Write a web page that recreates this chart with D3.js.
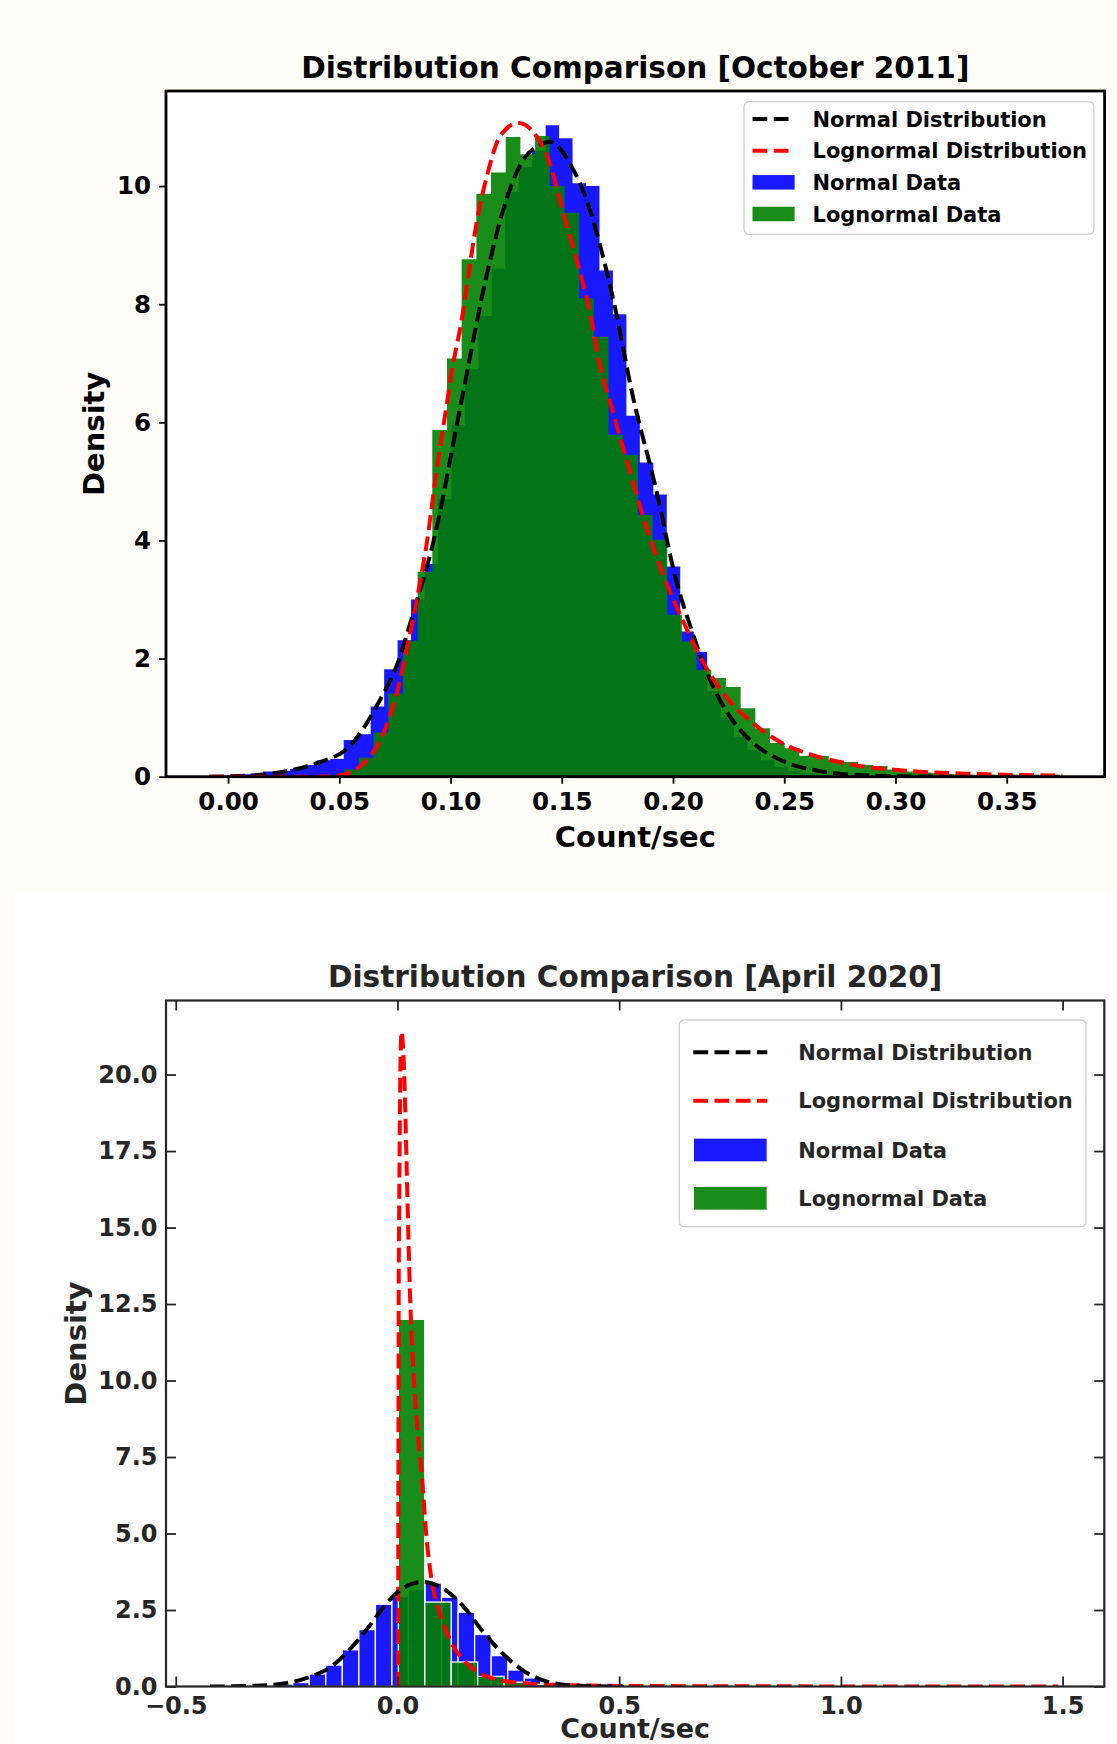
<!DOCTYPE html>
<html>
<head>
<meta charset="utf-8">
<script src="https://cdn.jsdelivr.net/npm/d3@7"></script>
<style>
  body { margin: 0; background: #fffdf8; }
  svg { display: block; }
  text { font-family: "DejaVu Sans", sans-serif; font-weight: bold; }
</style>
</head>
<body>
<svg id="chart" width="1117" height="1744"></svg>
<script>
// ---------- October 2011 ----------
const octNormalStart = -0.0085, octNormalWidth = 0.00605;
const octNormalDensity = [
  0.02, 0.02, 0.04, 0.05, 0.09, 0.10, 0.13, 0.20, 0.28, 0.30,
  0.62, 0.72, 1.19, 1.82, 2.31, 3.00, 3.60, 4.70, 5.95, 6.90,
  7.80, 8.60, 9.90, 10.32, 10.60, 11.03, 10.81, 10.05, 10.00, 8.57,
  7.83, 6.11, 5.32, 4.78, 3.56, 2.46, 2.11, 1.45, 1.00, 0.68,
  0.45, 0.28, 0.17, 0.10, 0.06, 0.035, 0.02, 0.01, 0.005, 0.005
];
const octLogStart = 0.0456, octLogWidth = 0.0066;
const octLogDensity = [
  0.03, 0.12, 0.32, 0.75, 1.41, 2.30, 3.47, 5.87, 7.08, 8.76,
  9.87, 10.23, 10.83, 10.54, 10.85, 10.00, 9.55, 8.10, 7.45, 5.79,
  5.45, 4.43, 4.01, 2.74, 2.29, 1.81, 1.67, 1.52, 1.16, 0.82,
  0.57, 0.48, 0.35, 0.35, 0.28, 0.25, 0.20, 0.18, 0.12, 0.09,
  0.07, 0.06, 0.04, 0.03, 0.03, 0.02, 0.015, 0.01, 0.005, 0.01
];
const octNormalCurve = [
  [-0.0085, 0.0], [0.01, 0.02], [0.025, 0.085], [0.04, 0.23], [0.055, 0.53],
  [0.0683, 1.3], [0.0758, 1.88], [0.0833, 2.78], [0.0923, 3.98], [0.105, 6.38],
  [0.1163, 8.5], [0.1237, 9.6], [0.1312, 10.35], [0.1402, 10.7], [0.1445, 10.75],
  [0.1544, 10.33], [0.1608, 9.8], [0.1672, 9.0], [0.1736, 8.0], [0.1816, 6.5],
  [0.1928, 4.8], [0.2009, 3.4], [0.2089, 2.42], [0.2169, 1.62], [0.225, 1.05],
  [0.2346, 0.62], [0.249, 0.27], [0.2651, 0.1], [0.28, 0.035], [0.30, 0.008],
  [0.33, 0.001], [0.375, 0.0]
];
const octLogCurve = [
  [-0.0085, 0.0], [0.04, 0.0], [0.0473, 0.01], [0.0548, 0.07], [0.0623, 0.28],
  [0.0698, 0.73], [0.0758, 1.41], [0.0803, 2.15], [0.0848, 2.99], [0.0893, 3.95],
  [0.0938, 5.2], [0.0983, 6.3], [0.1005, 6.85], [0.105, 7.73], [0.1088, 8.69],
  [0.1118, 9.4], [0.1163, 10.16], [0.1222, 10.84], [0.1305, 11.07], [0.1387, 10.84],
  [0.1447, 10.38], [0.1507, 9.54], [0.1567, 8.75], [0.1627, 7.85], [0.1672, 6.95],
  [0.1728, 6.2], [0.18, 5.25], [0.188, 4.23], [0.1977, 3.22], [0.2057, 2.54],
  [0.2138, 1.92], [0.225, 1.30], [0.2362, 0.9], [0.249, 0.57], [0.2651, 0.34],
  [0.2812, 0.2], [0.3052, 0.1], [0.3373, 0.045], [0.375, 0.02]
];
const octXTicks = [0, 0.05, 0.10, 0.15, 0.20, 0.25, 0.30, 0.35];
const octYTicks = [0, 2, 4, 6, 8, 10];

// ---------- April 2020 ----------
const aprNormalStart = -0.4228, aprNormalWidth = 0.0373;
const aprNormalDensity = [
  0.01, 0.01, 0.02, 0.03, 0.08, 0.13, 0.41, 0.70, 1.20, 1.86,
  2.69, 2.94, 3.16, 3.38, 2.92, 2.43, 1.70, 1.01, 0.54, 0.28,
  0.11, 0.04, 0.02, 0.01, 0.005
];
const aprLogStart = 0.002, aprLogWidth = 0.0596;
const aprLogDensity = [
  12.0, 2.76, 0.80, 0.33, 0.14, 0.07, 0.04, 0.02, 0.015, 0.01,
  0.01, 0.008, 0.006, 0.005, 0.004, 0.004, 0.003, 0.003, 0.002, 0.002,
  0.002, 0.001, 0.001, 0.001, 0.001
];
const aprNormalCurve = [
  [-0.4228, 0.0], [-0.33, 0.02], [-0.2576, 0.1], [-0.2199, 0.21], [-0.1823, 0.4],
  [-0.1447, 0.7], [-0.1071, 1.22], [-0.0695, 1.86], [-0.0319, 2.58], [0.0, 3.08],
  [0.0356, 3.37], [0.0582, 3.42], [0.1033, 3.2], [0.1484, 2.62], [0.1936, 1.78],
  [0.2387, 1.06], [0.2838, 0.52], [0.329, 0.2], [0.37, 0.07], [0.42, 0.02], [0.51, 0.0]
];
const aprLogCurve = [
  [0.0015, 0.0], [0.0018, 4.0], [0.0022, 8.0], [0.0028, 12.9], [0.004, 15.9],
  [0.0058, 19.2], [0.0075, 20.9], [0.0094, 21.4], [0.012, 21.0], [0.0145, 20.3],
  [0.0169, 19.17], [0.0207, 16.99], [0.0244, 14.81], [0.0282, 12.85], [0.036, 10.3],
  [0.047, 8.05], [0.0545, 6.97], [0.0659, 4.79], [0.077, 3.48], [0.0959, 2.39],
  [0.1184, 1.52], [0.1485, 0.87], [0.1861, 0.43], [0.2312, 0.21], [0.2914, 0.1],
  [0.3666, 0.05], [0.5, 0.02], [0.7, 0.01], [1.0, 0.003], [1.49, 0.0]
];
const aprXTicks = [-0.5, 0.0, 0.5, 1.0, 1.5];
const aprYTicks = [0, 2.5, 5, 7.5, 10, 12.5, 15, 17.5, 20];

const legendLabels = ["Normal Distribution", "Lognormal Distribution", "Normal Data", "Lognormal Data"];

const svg = d3.select('#chart');

// white panel behind the second figure
svg.append('rect')
  .attr('x', 15).attr('y', 892)
  .attr('width', 1117 - 15).attr('height', 1744 - 892)
  .attr('fill', '#ffffff');

const toBins = (start, width, dens) => dens.map((d, i) => ({ x0: start + i * width, x1: start + (i + 1) * width, d }));

let drawPanel = (p) => {
  const g = svg.append('g');
  const x = d3.scaleLinear().domain(p.xDomain).range([p.left, p.right]);
  const y = d3.scaleLinear().domain(p.yDomain).range([p.bottom, p.top]);

  g.append('rect')
    .attr('x', p.left).attr('y', p.top)
    .attr('width', p.right - p.left).attr('height', p.bottom - p.top)
    .attr('fill', '#fff');

  const clipId = p.id + '-clip';
  g.append('clipPath').attr('id', clipId)
    .append('rect')
    .attr('x', p.left).attr('y', p.top)
    .attr('width', p.right - p.left).attr('height', p.bottom - p.top);

  const plot = g.append('g').attr('clip-path', `url(#${clipId})`);

  const series = [
    { bins: toBins(p.normStart, p.normWidth, p.normDensity), color: 'blue' },
    { bins: toBins(p.logStart, p.logWidth, p.logDensity), color: 'green' }
  ];
  series.forEach(s => {
    if (p.barEdge) {
      plot.append('g').selectAll('rect')
        .data(s.bins)
        .enter()
        .append('rect')
        .attr('x', d => x(d.x0))
        .attr('width', d => x(d.x1) - x(d.x0))
        .attr('y', d => y(d.d))
        .attr('height', d => y(0) - y(d.d))
        .attr('fill', s.color)
        .attr('fill-opacity', 0.9)
        .attr('stroke', '#fff')
        .attr('stroke-width', 1.3);
    } else {
      // one stepped shape per series, so no seams between bars
      const last = s.bins[s.bins.length - 1];
      const pts = s.bins.map(b => [b.x0, b.d]).concat([[last.x1, last.d]]);
      const area = d3.area()
        .x(d => x(d[0])).y0(y(0)).y1(d => y(d[1]))
        .curve(d3.curveStepAfter);
      plot.append('path')
        .datum(pts)
        .attr('d', area)
        .attr('fill', s.color)
        .attr('fill-opacity', 0.9);
    }
  });

  const line = d3.line().x(d => x(d[0])).y(d => y(d[1])).curve(d3.curveMonotoneX);
  p.curves.forEach(c => {
    plot.append('path')
      .datum(c.data)
      .attr('d', line)
      .attr('fill', 'none')
      .attr('stroke', c.color)
      .attr('stroke-width', 4)
      .attr('stroke-dasharray', '14.8,6.4');
  });

  // axes
  const xAxis = d3.axisBottom(x).tickValues(p.xTicks).tickFormat(p.xFormat)
    .tickSizeInner(p.tickLen).tickSizeOuter(0).tickPadding(p.xPad);
  const yAxis = d3.axisLeft(y).tickValues(p.yTicks).tickFormat(p.yFormat)
    .tickSizeInner(p.tickLen).tickSizeOuter(0).tickPadding(p.yPad);

  const styleAxis = (ax, size) => {
    ax.select('.domain').remove();
    ax.attr('font-family', '"DejaVu Sans", sans-serif').attr('font-size', size).attr('font-weight', 'bold');
    ax.selectAll('line').attr('stroke', p.ink).attr('stroke-width', 1.8);
    ax.selectAll('text').attr('fill', p.ink);
  };

  const gx = g.append('g').attr('transform', `translate(0,${p.bottom})`).call(xAxis);
  styleAxis(gx, p.tickFont);
  const gy = g.append('g').attr('transform', `translate(${p.left},0)`).call(yAxis);
  styleAxis(gy, p.tickFont);

  if (p.mirror) {
    const gt = g.append('g').attr('transform', `translate(0,${p.top})`)
      .call(d3.axisTop(x).tickValues(p.xTicks).tickFormat('').tickSizeInner(p.tickLen).tickSizeOuter(0));
    styleAxis(gt, p.tickFont);
    const gr = g.append('g').attr('transform', `translate(${p.right},0)`)
      .call(d3.axisRight(y).tickValues(p.yTicks).tickFormat('').tickSizeInner(p.tickLen).tickSizeOuter(0));
    styleAxis(gr, p.tickFont);
  }

  // frame
  g.append('rect')
    .attr('x', p.left).attr('y', p.top)
    .attr('width', p.right - p.left).attr('height', p.bottom - p.top)
    .attr('fill', 'none').attr('stroke', p.ink).attr('stroke-width', p.frameWidth);

  // titles
  const cx = (p.left + p.right) / 2;
  g.append('text').attr('x', cx).attr('y', p.titleY)
    .attr('text-anchor', 'middle').attr('font-size', 29.5).attr('fill', p.ink)
    .text(p.title);
  g.append('text').attr('x', cx).attr('y', p.xLabelY)
    .attr('text-anchor', 'middle').attr('font-size', p.xLabelSize).attr('fill', p.ink)
    .text('Count/sec');
  g.append('text')
    .attr('transform', `translate(${p.yLabelX},${(p.top + p.bottom) / 2}) rotate(-90)`)
    .attr('text-anchor', 'middle').attr('font-size', 29).attr('fill', p.ink)
    .text('Density');

  // legend
  const L = p.legend;
  const lg = g.append('g');
  lg.append('rect')
    .attr('x', L.x).attr('y', L.y).attr('width', L.w).attr('height', L.h)
    .attr('rx', 5).attr('fill', '#fff').attr('fill-opacity', 0.8)
    .attr('stroke', '#cfcfcf').attr('stroke-width', 1.3);
  const handles = [
    { type: 'line', color: 'black' },
    { type: 'line', color: 'red' },
    { type: 'patch', color: 'blue' },
    { type: 'patch', color: 'green' }
  ];
  handles.forEach((h, i) => {
    const cy = L.rowY[i];
    if (h.type === 'line') {
      lg.append('line')
        .attr('x1', L.hx0).attr('x2', L.hx1).attr('y1', cy).attr('y2', cy)
        .attr('stroke', h.color).attr('stroke-width', 4)
        .attr('stroke-dasharray', '14.8,6.4');
    } else {
      lg.append('rect')
        .attr('x', L.hx0).attr('y', cy - L.patchH / 2)
        .attr('width', L.hx1 - L.hx0).attr('height', L.patchH)
        .attr('fill', h.color).attr('fill-opacity', 0.9)
        .attr('stroke', p.barEdge ? '#fff' : 'none').attr('stroke-width', 1.3);
    }
    lg.append('text')
      .attr('x', L.tx).attr('y', cy + 7.6)
      .attr('font-size', 21).attr('fill', p.ink)
      .text(legendLabels[i]);
  });
};

drawPanel({
  id: 'oct', ink: '#000', frameWidth: 2.8,
  left: 166, right: 1104.6, top: 91, bottom: 776.7,
  xDomain: [-0.0279, 0.394], yDomain: [0, 11.61],
  normStart: octNormalStart, normWidth: octNormalWidth, normDensity: octNormalDensity,
  logStart: octLogStart, logWidth: octLogWidth, logDensity: octLogDensity,
  barEdge: false,
  curves: [{ data: octNormalCurve, color: 'black' }, { data: octLogCurve, color: 'red' }],
  xTicks: octXTicks, yTicks: octYTicks,
  xFormat: d3.format('.2f'), yFormat: d3.format('d'),
  tickLen: 7, xPad: 9, yPad: 8, tickFont: 24.5, mirror: false,
  title: 'Distribution Comparison [October 2011]', titleY: 78,
  xLabelY: 847, xLabelSize: 29, yLabelX: 104,
  legend: { x: 744, y: 101.7, w: 350, h: 132.6, rowY: [119, 150.7, 182.3, 214],
            hx0: 752.5, hx1: 794.6, tx: 812.5, patchH: 14.5 }
});

drawPanel({
  id: 'apr', ink: '#262626', frameWidth: 2.2,
  left: 166, right: 1104.3, top: 1000.5, bottom: 1686.5,
  xDomain: [-0.522, 1.594], yDomain: [0, 22.42],
  normStart: aprNormalStart, normWidth: aprNormalWidth, normDensity: aprNormalDensity,
  logStart: aprLogStart, logWidth: aprLogWidth, logDensity: aprLogDensity,
  barEdge: true,
  curves: [{ data: aprLogCurve, color: 'red' }, { data: aprNormalCurve, color: 'black' }],
  xTicks: aprXTicks, yTicks: aprYTicks,
  xFormat: d3.format('.1f'), yFormat: d3.format('.1f'),
  tickLen: -10, xPad: 10, yPad: 8.5, tickFont: 24, mirror: true,
  title: 'Distribution Comparison [April 2020]', titleY: 987,
  xLabelY: 1737.5, xLabelSize: 27, yLabelX: 86,
  legend: { x: 679.3, y: 1020, w: 406.7, h: 206.7, rowY: [1052.3, 1100.7, 1150, 1198.3],
            hx0: 693.3, hx1: 767.3, tx: 798.3, patchH: 24 }
});
</script>
</body>
</html>
